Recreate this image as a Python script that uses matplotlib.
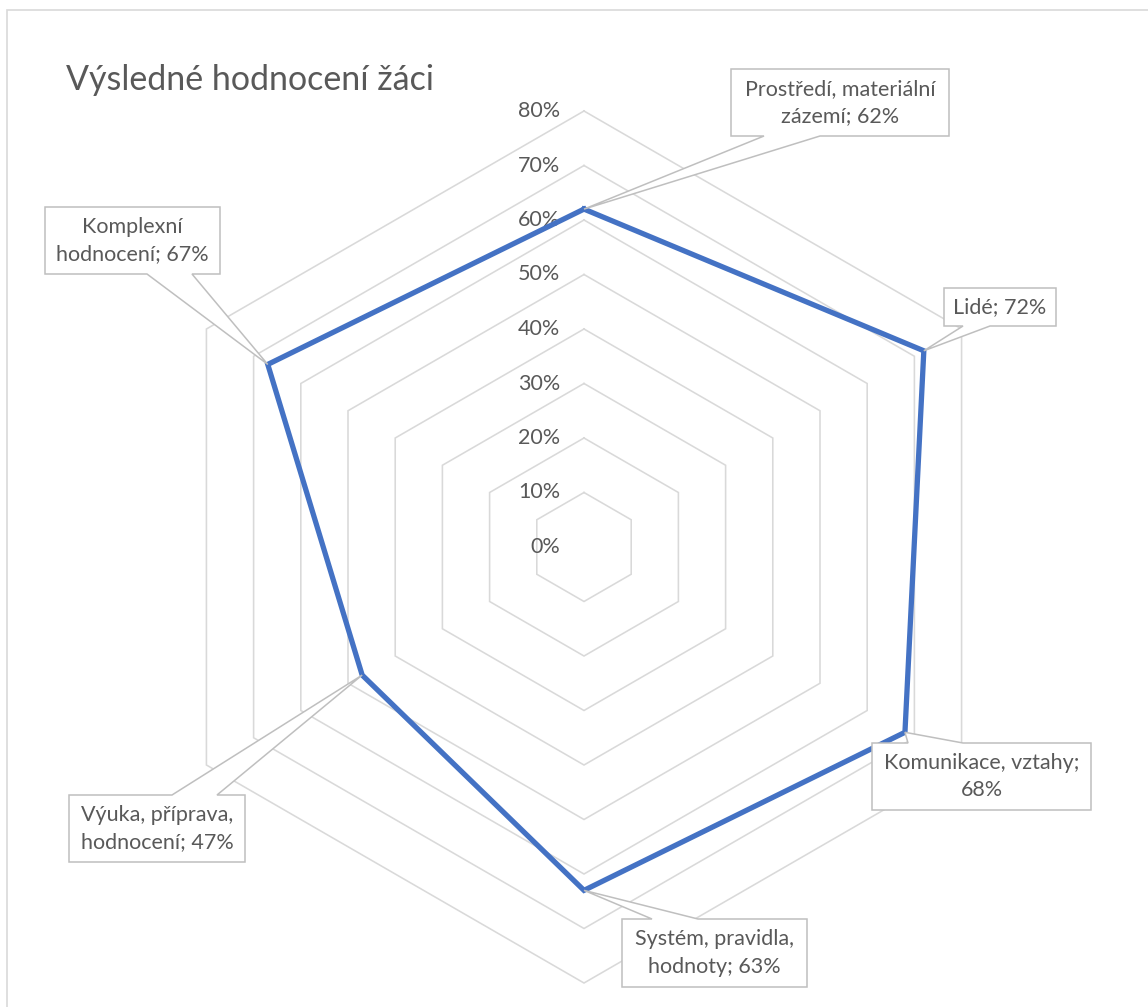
import textwrap
import numpy as np
import matplotlib
matplotlib.use("Agg")
import matplotlib.pyplot as plt
from matplotlib.patches import Polygon, Rectangle
from matplotlib.transforms import IdentityTransform

# ---------------- data ----------------
title = "Výsledné hodnocení žáci"
categories = ["Prostředí, materiální zázemí", "Lidé", "Komunikace, vztahy",
              "Systém, pravidla, hodnoty", "Výuka, příprava, hodnocení",
              "Komplexní hodnocení"]
values = [62, 72, 68, 63, 47, 67]          # percent
ring_ticks = [0, 10, 20, 30, 40, 50, 60, 70, 80]
tick_labels = [f"{t}%" for t in ring_ticks]

# ---------------- layout (pixels, origin top-left) ----------------
W, H = 1148, 1007
CX, CY = 584, 547          # chart centre
S = 5.45                   # pixels per percent
wrap_widths = [21, 20, 19, 17, 16, 14]
boxes = [  # x0, y0, x1, y1, edge, base0, base1
    (731, 69, 949, 136, "bottom", 764, 820),
    (944, 288, 1056, 326, "bottom", 963, 990),
    (872, 743, 1091, 810, "top", 908, 963),
    (622, 919, 807, 987, "top", 652, 698),
    (69, 795, 245, 862, "top", 172, 217),
    (45, 207, 220, 274, "bottom", 147, 192),
]

TXT = "#595959"
GRID = "#D9D9D9"
LINE = "#4472C4"
CALLOUT = "#BFBFBF"
FONT = "Lato"
FS = 15.5

fig = plt.figure(figsize=(W / 100, H / 100), dpi=100)
fig.patch.set_facecolor("white")
ax = fig.add_axes([0, 0, 1, 1])
ax.set_xlim(-CX / S, (W - CX) / S)
ax.set_ylim(-(H - CY) / S, CY / S)
ax.axis("off")

n = len(categories)
theta = np.arange(n) * 2 * np.pi / n
sx, cy = np.sin(theta), np.cos(theta)

# hexagonal grid rings
for t in ring_ticks[1:]:
    xs = np.append(t * sx, t * sx[0])
    ys = np.append(t * cy, t * cy[0])
    ax.plot(xs, ys, color=GRID, lw=1.15, zorder=1, solid_joinstyle="miter")

# ring labels
for t, lab in zip(ring_ticks, tick_labels):
    ax.annotate(lab, xy=(0, t), xytext=(-24, 0), textcoords="offset pixels",
                ha="right", va="center", fontsize=FS, color=TXT, family=FONT,
                zorder=3)

# data series
v = np.array(values, dtype=float)
px = np.append(v * sx, v[0] * sx[0])
py = np.append(v * cy, v[0] * cy[0])
ax.plot(px, py, color=LINE, lw=3.8, zorder=4, solid_joinstyle="miter")

# callout data labels
for i in range(n):
    x0, y0, x1, y1, edge, b0, b1 = boxes[i]
    dx, dy = ax.transData.transform((values[i] * sx[i], values[i] * cy[i]))
    tip = (dx, H - dy)
    if edge == "bottom":
        pts = [(x0, y0), (x1, y0), (x1, y1), (b1, y1), tip, (b0, y1), (x0, y1)]
    else:
        pts = [(x0, y0), (b0, y0), tip, (b1, y0), (x1, y0), (x1, y1), (x0, y1)]
    pts = [(p[0], H - p[1]) for p in pts]
    poly = Polygon(pts, closed=True, facecolor="white", edgecolor=CALLOUT,
                   lw=1.1, transform=IdentityTransform(), zorder=5,
                   joinstyle="miter")
    ax.add_artist(poly)
    label = textwrap.fill(f"{categories[i]}; {values[i]}%", width=wrap_widths[i])
    ax.text((x0 + x1) / 2, H - (y0 + y1) / 2, label, transform=IdentityTransform(),
            ha="center", va="center", multialignment="center", fontsize=FS,
            color=TXT, family=FONT, linespacing=1.45, zorder=6)

# title
fig.text(66 / W, 1 - 80 / H, title, ha="left", va="center", fontsize=24.5,
         color=TXT, family=FONT)

# chart area border
fig.patches.append(Rectangle((7 / W, -0.01), 1.02, 1 - 10 / H + 0.01,
                             transform=fig.transFigure, fill=False,
                             edgecolor=GRID, lw=1.2))

fig.savefig("out.png", dpi=100, facecolor="white")
